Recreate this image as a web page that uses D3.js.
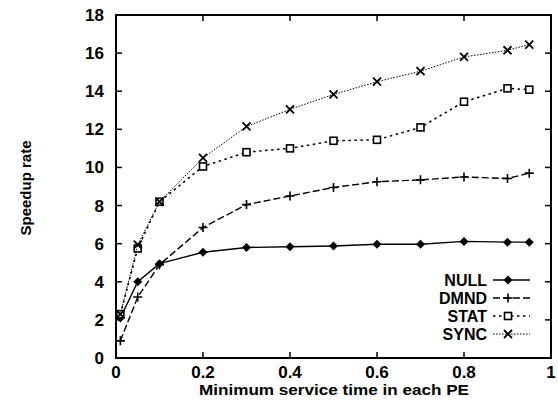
<!DOCTYPE html>
<html>
<head>
<meta charset="utf-8">
<script src="https://cdn.jsdelivr.net/npm/d3@7"></script>
<style>
  body { margin: 0; background: #fff; }
  svg text { font-family: 'Liberation Sans', Arial, sans-serif; fill: #000; }
  .tick-label { font-weight: bold; font-size: 17px; }
  .axis-label { font-weight: bold; font-size: 15px; }
  .legend-label { font-weight: bold; font-size: 16px; }
</style>
</head>
<body>
<svg id="chart"></svg>
<script>
var xTicks = [0, 0.2, 0.4, 0.6, 0.8, 1];
var yTicks = [0, 2, 4, 6, 8, 10, 12, 14, 16, 18];

var times = [0.01, 0.05, 0.1, 0.2, 0.3, 0.4, 0.5, 0.6, 0.7, 0.8, 0.9, 0.95];
var nullRates = [2.1, 4.0, 4.95, 5.55, 5.8, 5.84, 5.88, 5.97, 5.97, 6.12, 6.08, 6.08];
var dmndRates = [0.9, 3.2, 4.9, 6.85, 8.05, 8.5, 8.95, 9.25, 9.35, 9.5, 9.42, 9.7];
var statRates = [2.3, 5.75, 8.2, 10.05, 10.8, 11.0, 11.4, 11.45, 12.1, 13.45, 14.15, 14.08];
var syncRates = [2.3, 5.95, 8.2, 10.5, 12.15, 13.05, 13.83, 14.5, 15.05, 15.8, 16.15, 16.45];

var seriesNames = ['NULL', 'DMND', 'STAT', 'SYNC'];

var margin = {top: 15, right: 7, bottom: 51, left: 116};
var width = 558 - margin.left - margin.right;
var height = 409 - margin.top - margin.bottom;

var svg = d3.select('#chart')
  .attr('width', 558)
  .attr('height', 409);

var g = svg.append('g')
  .attr('transform', 'translate(' + margin.left + ',' + margin.top + ')');

var x = d3.scaleLinear().domain([0, 1]).range([0, width]);
var y = d3.scaleLinear().domain([0, 18]).range([height, 0]);

// frame
g.append('rect')
  .attr('width', width)
  .attr('height', height)
  .style('fill', 'none')
  .style('stroke', '#000')
  .style('stroke-width', 2);

// inward ticks on all four sides
var tickLen = 6;
xTicks.slice(1, -1).forEach(function(t) {
  g.append('line').attr('x1', x(t)).attr('x2', x(t)).attr('y1', height).attr('y2', height - tickLen)
    .style('stroke', '#000').style('stroke-width', 1.5);
  g.append('line').attr('x1', x(t)).attr('x2', x(t)).attr('y1', 0).attr('y2', tickLen)
    .style('stroke', '#000').style('stroke-width', 1.5);
});
yTicks.slice(1, -1).forEach(function(t) {
  g.append('line').attr('x1', 0).attr('x2', tickLen).attr('y1', y(t)).attr('y2', y(t))
    .style('stroke', '#000').style('stroke-width', 1.5);
  g.append('line').attr('x1', width).attr('x2', width - tickLen).attr('y1', y(t)).attr('y2', y(t))
    .style('stroke', '#000').style('stroke-width', 1.5);
});

g.selectAll('.xlab')
  .data(xTicks)
  .enter()
  .append('text')
  .attr('class', 'tick-label')
  .attr('x', function(d) { return x(d); })
  .attr('y', height + 20)
  .style('text-anchor', 'middle')
  .text(function(d) { return d3.format('')(d); });

g.selectAll('.ylab')
  .data(yTicks)
  .enter()
  .append('text')
  .attr('class', 'tick-label')
  .attr('x', -12)
  .attr('y', function(d) { return y(d) + 6; })
  .style('text-anchor', 'end')
  .text(function(d) { return d; });

svg.append('text')
  .attr('class', 'axis-label')
  .attr('x', 334)
  .attr('y', 395)
  .attr('textLength', 270)
  .attr('lengthAdjust', 'spacingAndGlyphs')
  .style('text-anchor', 'middle')
  .text('Minimum service time in each PE');

svg.append('text')
  .attr('class', 'axis-label')
  .attr('transform', 'translate(31,188) rotate(-90)')
  .style('text-anchor', 'middle')
  .text('Speedup rate');

// series
var styles = {
  NULL: {dash: null, width: 1.4},
  DMND: {dash: '7,3', width: 1.4},
  STAT: {dash: '2.5,3.5', width: 1.5},
  SYNC: {dash: '1.5,1.5', width: 1}
};

var seriesData = {
  NULL: nullRates,
  DMND: dmndRates,
  STAT: statRates,
  SYNC: syncRates
};

var line = d3.line()
  .x(function(d) { return x(d[0]); })
  .y(function(d) { return y(d[1]); });

function drawMarker(sel, name) {
  if (name === 'NULL') {
    sel.append('path')
      .attr('d', 'M0,-4.5L4.5,0L0,4.5L-4.5,0Z')
      .style('fill', '#000');
  } else if (name === 'DMND') {
    sel.append('path')
      .attr('d', 'M-4.5,0H4.5M0,-4.5V4.5')
      .style('stroke', '#000').style('stroke-width', 1.6);
  } else if (name === 'STAT') {
    sel.append('rect')
      .attr('x', -3.5).attr('y', -3.5).attr('width', 7).attr('height', 7)
      .style('fill', '#fff').style('stroke', '#000').style('stroke-width', 1.6);
  } else {
    sel.append('path')
      .attr('d', 'M-4,-4L4,4M-4,4L4,-4')
      .style('stroke', '#000').style('stroke-width', 1.8);
  }
}

seriesNames.forEach(function(name) {
  var pts = times.map(function(t, i) { return [t, seriesData[name][i]]; });
  g.append('path')
    .datum(pts)
    .attr('d', line)
    .style('fill', 'none')
    .style('stroke', '#000')
    .style('stroke-width', styles[name].width)
    .style('stroke-dasharray', styles[name].dash);
  pts.forEach(function(p) {
    var m = g.append('g').attr('transform', 'translate(' + x(p[0]) + ',' + y(p[1]) + ')');
    drawMarker(m, name);
  });
});

// legend
var legend = svg.append('g');
seriesNames.forEach(function(name, i) {
  var ly = 280 + i * 18;
  legend.append('text')
    .attr('class', 'legend-label')
    .attr('x', 487)
    .attr('y', ly + 6)
    .style('text-anchor', 'end')
    .text(name);
  legend.append('line')
    .attr('x1', 493).attr('x2', 530)
    .attr('y1', ly).attr('y2', ly)
    .style('stroke', '#000')
    .style('stroke-width', styles[name].width)
    .style('stroke-dasharray', styles[name].dash);
  var m = legend.append('g').attr('transform', 'translate(508,' + ly + ')');
  drawMarker(m, name);
});
</script>
</body>
</html>
